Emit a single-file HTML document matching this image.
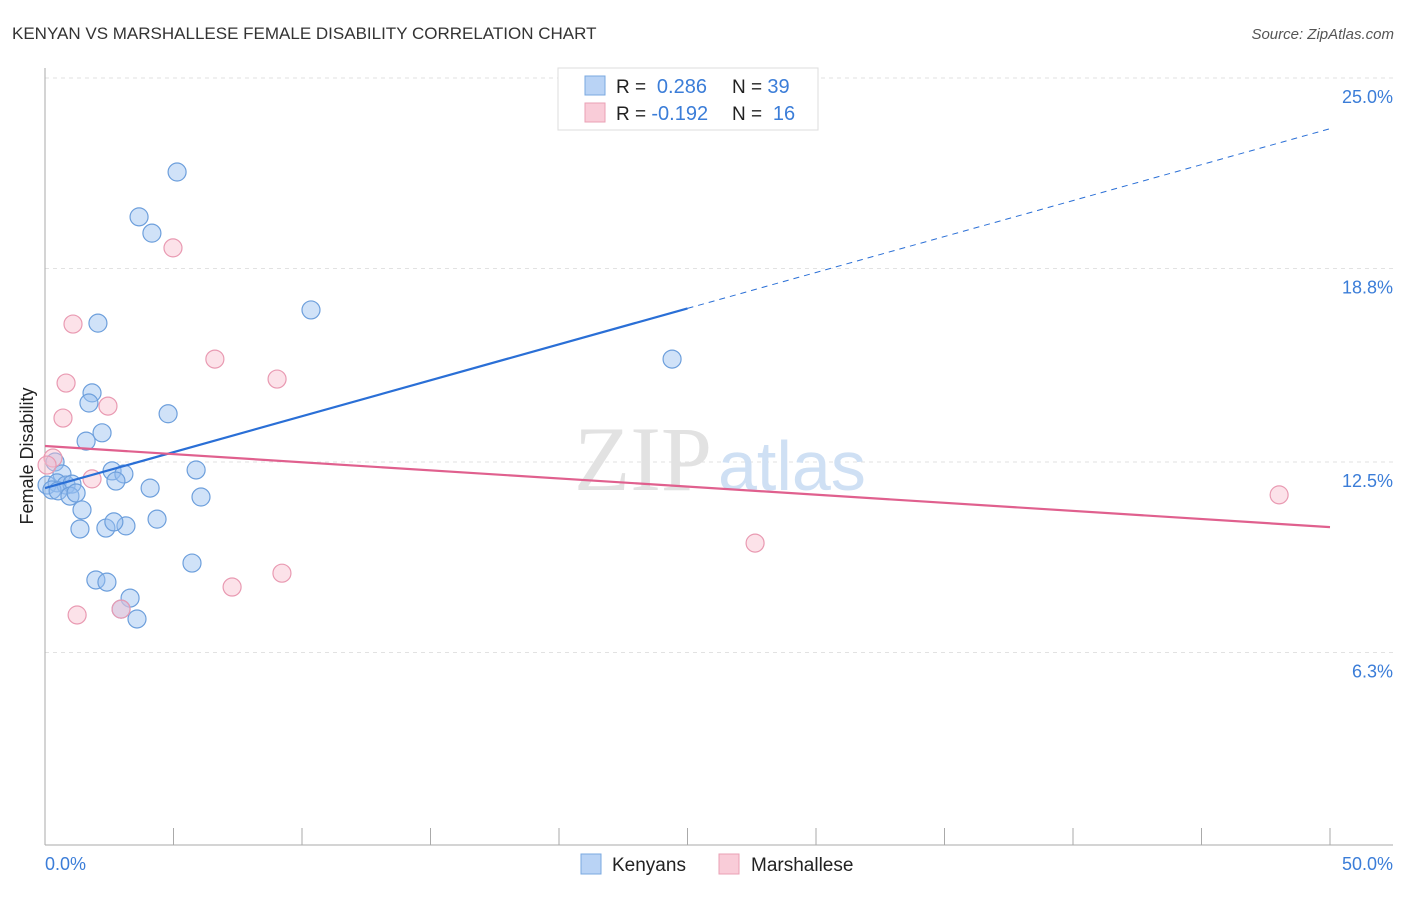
<!DOCTYPE html>
<html><head><meta charset="utf-8"><style>
body{margin:0;background:#fff;font-family:"Liberation Sans",sans-serif}
svg text{font-family:"Liberation Sans",sans-serif}
</style></head><body>
<svg id="c" width="1406" height="892">
<text x="12" y="39" font-size="17" fill="#333">KENYAN VS MARSHALLESE FEMALE DISABILITY CORRELATION CHART</text>
<text x="1394" y="39" font-size="15" fill="#555" text-anchor="end" font-style="italic">Source: ZipAtlas.com</text>
<g id="grid"></g>
<text x="712" y="490" font-size="92" fill="#e2e2e2" text-anchor="end" style="font-family:'Liberation Serif',serif">ZIP</text>
<text x="718" y="490" font-size="70" fill="#cfe0f4">atlas</text>
<line x1="45" y1="68" x2="45" y2="845" stroke="#aaa"/>
<line x1="45" y1="845" x2="1393" y2="845" stroke="#aaa"/>
<g id="ticks"></g>
<text x="45" y="870" font-size="18" fill="#3b7dd8">0.0%</text>
<text x="1393" y="870" font-size="18" fill="#3b7dd8" text-anchor="end">50.0%</text>
<text transform="translate(33,456) rotate(-90)" font-size="18" fill="#222" text-anchor="middle">Female Disability</text>
<g id="pts"></g>
<g id="lines"></g>
<g>
<rect x="558" y="68" width="260" height="62" fill="#fff" stroke="#ddd"/>
<rect x="585" y="76" width="20" height="19" fill="#b9d3f5" stroke="#7aa8e0"/>
<rect x="585" y="103" width="20" height="19" fill="#f9ccd8" stroke="#eaa0b5"/>
<text x="616" y="93" font-size="19" fill="#222">R = <tspan fill="#3b7dd8" font-size="20">&#160;0.286</tspan><tspan x="732">N = </tspan><tspan fill="#3b7dd8" font-size="20">39</tspan></text>
<text x="616" y="120" font-size="19" fill="#222">R = <tspan fill="#3b7dd8" font-size="20">-0.192</tspan><tspan x="732">N = </tspan><tspan fill="#3b7dd8" font-size="20">&#160;16</tspan></text>
</g>
<g>
<rect x="581" y="854" width="20" height="20" fill="#b9d3f5" stroke="#7aa8e0"/>
<text x="612" y="871" font-size="19" fill="#222">Kenyans</text>
<rect x="719" y="854" width="20" height="20" fill="#f9ccd8" stroke="#eaa0b5"/>
<text x="751" y="871" font-size="19" fill="#222">Marshallese</text>
</g>
</svg>
<script>
const yTicks=[25.0,18.8,12.5,6.3];
const yTickLabels=["25.0%","18.8%","12.5%","6.3%"];
const blueX=[5.14,3.66,4.16,2.06,10.35,24.40,1.83,1.71,4.79,2.22,1.60,0.39,0.66,2.61,3.07,5.88,0.08,0.47,0.82,1.05,0.27,0.51,0.97,1.21,4.09,2.76,6.07,1.44,1.36,2.37,3.15,2.68,4.36,5.72,1.98,2.41,3.31,2.96,3.58];
const blueY=[21.94,20.48,19.95,17.02,17.45,15.85,14.75,14.42,14.07,13.45,13.18,12.5,12.11,12.21,12.11,12.24,11.75,11.82,11.75,11.78,11.59,11.56,11.39,11.49,11.65,11.88,11.36,10.94,10.32,10.35,10.42,10.55,10.64,9.21,8.66,8.59,8.07,7.71,7.39];
const pinkX=[4.98,1.09,6.61,0.82,9.03,0.70,2.45,0.31,0.08,1.83,48.02,27.63,9.22,7.28,1.25,2.96];
const pinkY=[19.47,16.99,15.85,15.07,15.20,13.93,14.32,12.63,12.40,11.95,11.43,9.86,8.88,8.43,7.52,7.71];
const blueFit=[11.65,0.234];
const pinkFit=[13.02,-0.0528];
const NS="http://www.w3.org/2000/svg";
const xs=v=>45+v*25.7, ys=v=>462-(v-12.5)*30.72;
function mk(t,a,p){const e=document.createElementNS(NS,t);for(const k in a)e.setAttribute(k,a[k]);p.appendChild(e);return e;}
const grid=document.getElementById('grid');
yTicks.forEach((t,i)=>{
 const l=mk('line',{x1:45,x2:1393,y1:ys(t),y2:ys(t),stroke:'#e2e2e2','stroke-dasharray':'4,4'},grid);
 
 
 const tx=mk('text',{x:1393,y:ys(t)+25,'font-size':18,fill:'#3b7dd8','text-anchor':'end'},grid);
 tx.textContent=yTickLabels[i];
 
 
});
const tk=document.getElementById('ticks');
for(let i=0;i<=10;i++){const l=mk('line',{x1:xs(i*5),x2:xs(i*5),y1:828,y2:845,stroke:'#aaa'},tk);
 
 }
const pts=document.getElementById('pts');
blueX.forEach((x,i)=>{const c=mk('circle',{cx:xs(x),cy:ys(blueY[i]),r:9,fill:'rgba(150,190,240,0.45)',stroke:'#6d9fdc','stroke-width':1.2},pts);
 
 });
pinkX.forEach((x,i)=>{const c=mk('circle',{cx:xs(x),cy:ys(pinkY[i]),r:9,fill:'rgba(248,190,206,0.45)',stroke:'#e99ab2','stroke-width':1.2},pts);
 
 });
const ln=document.getElementById('lines');
const f=(fit,x)=>fit[0]+fit[1]*x;
let a=mk('line',{x1:xs(0),y1:ys(f(blueFit,0)),x2:xs(25),y2:ys(f(blueFit,25)),stroke:'#2a6fd6','stroke-width':2.2},ln);


a=mk('line',{x1:xs(25),y1:ys(f(blueFit,25)),x2:xs(50),y2:ys(f(blueFit,50)),stroke:'#2a6fd6','stroke-width':1,'stroke-dasharray':'6,5'},ln);


a=mk('line',{x1:xs(0),y1:ys(f(pinkFit,0)),x2:xs(50),y2:ys(f(pinkFit,50)),stroke:'#e0608e','stroke-width':2.2},ln);


</script>
</body></html>
